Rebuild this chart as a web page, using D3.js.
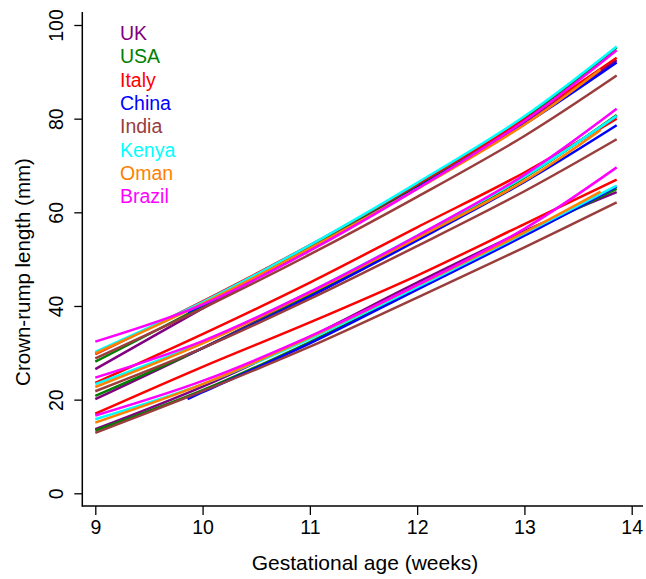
<!DOCTYPE html>
<html>
<head>
<meta charset="utf-8">
<script src="https://cdn.jsdelivr.net/npm/d3@7"></script>
<style>
  html, body { margin: 0; padding: 0; background: #fff; }
  svg { display: block; font-family: "Liberation Sans", Arial, sans-serif; }
</style>
</head>
<body>
<svg id="chart" width="646" height="579"></svg>
<script>
// Crown-rump length centiles (3rd, 50th, 97th) by gestational age, per country.
const countries = ["UK", "USA", "Italy", "China", "India", "Kenya", "Oman", "Brazil"];
const colors = ["#800080", "#008000", "#ff0000", "#0000ff", "#993d3d", "#00ffff", "#ff8000", "#ff00ff"];

// Gestational age nodes (weeks) for each country
const weeksUK = [9, 10, 11, 12, 13, 13.86];
const weeksUSA = [9, 10, 11, 12, 13, 13.86];
const weeksItaly = [9, 10, 11, 12, 13, 13.86];
const weeksChina = [9.86, 10, 11, 12, 13, 13.86];
const weeksIndia = [9, 10, 11, 12, 13, 13.86];
const weeksKenya = [9, 10, 11, 12, 13, 13.86];
const weeksOman = [9, 10, 11, 12, 13, 13.71];
const weeksBrazil = [9, 10, 11, 12, 13, 13.86];

// 3rd centile (mm)
const p3UK = [13.7, 22.8, 33.4, 45.0, 56.0, 64.3];
const p3USA = [13.4, 22.0, 32.3, 43.6, 55.2, 65.0];
const p3Italy = [17.0, 27.0, 36.5, 46.5, 57.5, 67.0];
const p3China = [20.1, 21.6, 32.0, 43.5, 55.0, 65.5];
const p3India = [12.9, 21.8, 31.3, 41.8, 52.5, 62.1];
const p3Kenya = [15.8, 23.3, 33.0, 44.0, 55.5, 65.7];
const p3Oman = [15.1, 23.3, 33.3, 44.4, 55.7, 64.4];
const p3Brazil = [16.6, 24.0, 33.5, 44.5, 56.5, 69.6];

// 50th centile (mm)
const p50UK = [20.1, 31.0, 42.6, 54.8, 67.6, 80.5];
const p50USA = [20.8, 31.0, 42.3, 54.6, 67.4, 80.8];
const p50Italy = [23.6, 34.0, 45.0, 56.8, 68.5, 80.0];
const p50China = [29.6, 31.0, 42.0, 54.0, 66.5, 78.6];
const p50India = [21.8, 31.0, 41.5, 52.8, 64.5, 75.6];
const p50Kenya = [23.3, 32.2, 43.0, 55.0, 67.6, 80.6];
const p50Oman = [22.7, 32.0, 42.8, 54.5, 66.7, 77.6];
const p50Brazil = [24.7, 32.5, 43.0, 55.0, 68.0, 82.1];

// 97th centile (mm)
const p97UK = [26.5, 39.5, 52.3, 65.3, 79.2, 92.5];
const p97USA = [28.1, 40.0, 52.6, 65.8, 80.0, 95.2];
const p97Italy = [29.7, 41.0, 53.0, 66.0, 79.8, 93.0];
const p97China = [38.7, 40.2, 52.2, 65.2, 78.8, 92.0];
const p97India = [28.8, 39.5, 51.0, 63.3, 76.3, 89.2];
const p97Kenya = [30.2, 40.8, 53.0, 66.3, 80.5, 95.4];
const p97Oman = [29.9, 40.5, 52.3, 65.0, 78.7, 90.5];
const p97Brazil = [32.4, 40.3, 51.8, 65.0, 79.5, 94.6];

const xTicks = [9, 10, 11, 12, 13, 14];
const yTicks = [0, 20, 40, 60, 80, 100];

const series = [
  { weeks: weeksUK, p3: p3UK, p50: p50UK, p97: p97UK },
  { weeks: weeksUSA, p3: p3USA, p50: p50USA, p97: p97USA },
  { weeks: weeksItaly, p3: p3Italy, p50: p50Italy, p97: p97Italy },
  { weeks: weeksChina, p3: p3China, p50: p50China, p97: p97China },
  { weeks: weeksIndia, p3: p3India, p50: p50India, p97: p97India },
  { weeks: weeksKenya, p3: p3Kenya, p50: p50Kenya, p97: p97Kenya },
  { weeks: weeksOman, p3: p3Oman, p50: p50Oman, p97: p97Oman },
  { weeks: weeksBrazil, p3: p3Brazil, p50: p50Brazil, p97: p97Brazil }
];

const svg = d3.select("#chart");

const x = d3.scaleLinear().domain([9, 14]).range([95.3, 631.7]);
const y = d3.scaleLinear().domain([0, 100]).range([493.3, 25]);

const axisLeftX = 82.3;
const axisBottomY = 506;

// Axis lines
svg.append("line")
  .attr("x1", axisLeftX).attr("x2", axisLeftX)
  .attr("y1", 12).attr("y2", axisBottomY + 0.5)
  .attr("stroke", "#000").attr("stroke-width", 1.5);
svg.append("line")
  .attr("x1", axisLeftX - 0.5).attr("x2", 643)
  .attr("y1", axisBottomY).attr("y2", axisBottomY)
  .attr("stroke", "#000").attr("stroke-width", 1.5);

// Y axis
const yAxis = d3.axisLeft(y).tickValues(yTicks).tickFormat(d3.format("d"))
  .tickSize(8).tickPadding(6);
const gy = svg.append("g").attr("transform", `translate(${axisLeftX},0)`).call(yAxis);
gy.select(".domain").remove();
gy.selectAll(".tick line").attr("stroke-width", 1.3);
gy.selectAll(".tick text")
  .attr("font-size", 19.5)
  .attr("font-family", "Liberation Sans, Arial, sans-serif")
  .attr("text-anchor", "middle")
  .attr("dy", 0)
  .attr("x", 0)
  .attr("transform", "translate(-19,0) rotate(-90)");

// X axis
const xAxis = d3.axisBottom(x).tickValues(xTicks).tickFormat(d3.format("d"))
  .tickSize(9).tickPadding(5);
const gx = svg.append("g").attr("transform", `translate(0,${axisBottomY})`).call(xAxis);
gx.select(".domain").remove();
gx.selectAll(".tick line").attr("stroke-width", 1.3);
gx.selectAll(".tick text")
  .attr("font-size", 19.5)
  .attr("font-family", "Liberation Sans, Arial, sans-serif");

// Axis titles
svg.append("text")
  .attr("x", 365).attr("y", 570)
  .attr("text-anchor", "middle")
  .attr("font-size", 21)
  .text("Gestational age (weeks)");
svg.append("text")
  .attr("transform", "translate(30,272) rotate(-90)")
  .attr("text-anchor", "middle")
  .attr("font-size", 20.5)
  .text("Crown-rump length (mm)");

// Centile curves
const line = d3.line()
  .x(d => x(d[0]))
  .y(d => y(d[1]))
  .curve(d3.curveCatmullRom.alpha(0.5));

const curves = svg.append("g").attr("fill", "none").attr("stroke-width", 2.5)
  .attr("stroke-linejoin", "round");
series.forEach((s, i) => {
  ["p3", "p50", "p97"].forEach(k => {
    const pts = s.weeks.map((w, j) => [w, s[k][j]]);
    curves.append("path")
      .attr("d", line(pts))
      .attr("stroke", colors[i]);
  });
});

// Legend
const legend = svg.append("g");
countries.forEach((c, i) => {
  legend.append("text")
    .attr("x", 120)
    .attr("y", 40 + i * 23.33)
    .attr("font-size", 19.5)
    .attr("fill", colors[i])
    .text(c);
});
</script>
</body>
</html>
